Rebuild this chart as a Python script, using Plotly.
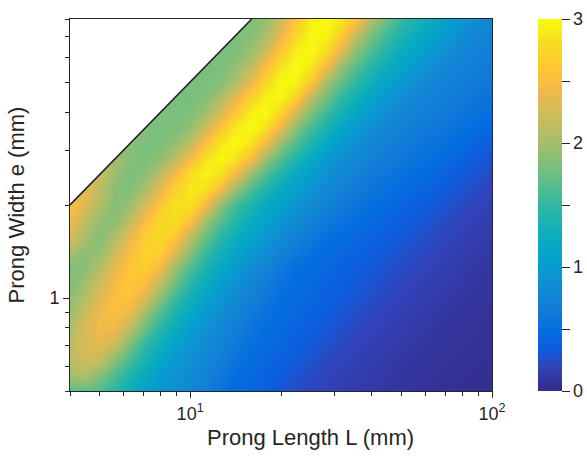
import plotly.graph_objects as go

# ---- data ----
# grid of prong lengths L (mm) and prong widths e (mm), log-spaced (0.05 decade)
L_grid = [3.981, 4.467, 5.012, 5.623, 6.310, 7.079, 7.943, 8.913, 10.0, 11.22, 12.59, 14.13, 15.85,
          17.78, 19.95, 22.39, 25.12, 28.18, 31.62, 35.48, 39.81, 44.67, 50.12, 56.23, 63.10, 70.79,
          79.43, 89.13, 100.0]
e_grid = [0.5012, 0.5623, 0.6310, 0.7079, 0.7943, 0.8913, 1.0, 1.122, 1.259, 1.413, 1.585, 1.778,
          1.995, 2.239, 2.512, 2.818, 3.162, 3.548, 3.981, 4.467, 5.012, 5.623, 6.310, 7.079, 7.943]

# colour values per e row (bottom -> top), one value per L column
row_e0_501 = [1.68, 1.68, 1.6, 1.44, 1.25, 1.06, 0.945, 0.86, 0.78, 0.667, 0.54, 0.462, 0.406, 0.35, 0.293, 0.237, 0.193, 0.173, 0.153, 0.132, 0.112, 0.096, 0.083, 0.071, 0.06, 0.05, 0.042, 0.034, 0.027]
row_e0_562 = [2.0, 2.06, 1.85, 1.6, 1.39, 1.2, 1.0, 0.913, 0.825, 0.73, 0.61, 0.495, 0.442, 0.389, 0.336, 0.283, 0.23, 0.191, 0.17, 0.15, 0.129, 0.109, 0.093, 0.08, 0.068, 0.058, 0.049, 0.04, 0.033]
row_e0_631 = [2.1, 2.24, 2.17, 1.85, 1.56, 1.34, 1.14, 0.97, 0.88, 0.78, 0.675, 0.56, 0.475, 0.425, 0.375, 0.324, 0.274, 0.224, 0.189, 0.168, 0.147, 0.126, 0.105, 0.09, 0.078, 0.067, 0.057, 0.048, 0.04]
row_e0_708 = [2.1, 2.29, 2.35, 2.18, 1.81, 1.48, 1.28, 1.08, 0.94, 0.84, 0.735, 0.62, 0.51, 0.457, 0.41, 0.362, 0.314, 0.267, 0.219, 0.187, 0.166, 0.144, 0.122, 0.1, 0.088, 0.077, 0.067, 0.057, 0.048]
row_e0_794 = [2.04, 2.27, 2.45, 2.41, 2.11, 1.71, 1.42, 1.22, 1.02, 0.9, 0.79, 0.683, 0.574, 0.486, 0.44, 0.395, 0.35, 0.305, 0.26, 0.215, 0.185, 0.163, 0.141, 0.119, 0.099, 0.087, 0.076, 0.066, 0.056]
row_e0_891 = [1.95, 2.2, 2.43, 2.52, 2.39, 1.96, 1.62, 1.37, 1.16, 0.97, 0.86, 0.74, 0.635, 0.53, 0.469, 0.426, 0.383, 0.34, 0.297, 0.254, 0.21, 0.183, 0.16, 0.138, 0.115, 0.097, 0.085, 0.075, 0.065]
row_e1_000 = [1.88, 2.08, 2.33, 2.53, 2.55, 2.29, 1.86, 1.53, 1.31, 1.09, 0.93, 0.8, 0.69, 0.587, 0.494, 0.453, 0.412, 0.371, 0.33, 0.289, 0.248, 0.207, 0.181, 0.158, 0.135, 0.112, 0.097, 0.085, 0.075]
row_e1_122 = [1.82, 1.97, 2.22, 2.48, 2.61, 2.5, 2.14, 1.75, 1.45, 1.24, 1.03, 0.89, 0.76, 0.654, 0.548, 0.478, 0.439, 0.4, 0.36, 0.32, 0.281, 0.242, 0.203, 0.178, 0.155, 0.131, 0.108, 0.095, 0.085]
row_e1_259 = [1.83, 1.87, 2.08, 2.37, 2.6, 2.67, 2.46, 1.97, 1.63, 1.38, 1.17, 0.98, 0.85, 0.726, 0.615, 0.504, 0.464, 0.426, 0.388, 0.35, 0.313, 0.275, 0.237, 0.2, 0.175, 0.151, 0.127, 0.103, 0.09]
row_e1_413 = [2.05, 1.88, 1.93, 2.22, 2.5, 2.7, 2.67, 2.33, 1.85, 1.53, 1.33, 1.14, 0.964, 0.84, 0.72, 0.62, 0.52, 0.469, 0.43, 0.391, 0.352, 0.313, 0.274, 0.235, 0.198, 0.172, 0.148, 0.123, 0.099]
row_e1_585 = [2.3, 2.03, 1.84, 2.05, 2.37, 2.66, 2.77, 2.62, 2.15, 1.75, 1.46, 1.28, 1.1, 0.947, 0.83, 0.717, 0.624, 0.53, 0.474, 0.433, 0.393, 0.353, 0.313, 0.273, 0.233, 0.195, 0.17, 0.145, 0.12]
row_e1_778 = [2.45, 2.15, 1.92, 1.87, 2.16, 2.49, 2.75, 2.81, 2.56, 1.98, 1.66, 1.41, 1.24, 1.07, 0.93, 0.815, 0.714, 0.633, 0.552, 0.485, 0.442, 0.4, 0.358, 0.315, 0.273, 0.23, 0.193, 0.167, 0.141]
row_e1_995 = [2.6, 2.32, 2.05, 1.86, 1.96, 2.28, 2.61, 2.85, 2.83, 2.47, 1.9, 1.57, 1.37, 1.2, 1.04, 0.92, 0.81, 0.714, 0.64, 0.57, 0.498, 0.453, 0.408, 0.363, 0.319, 0.274, 0.229, 0.19, 0.164]
row_e2_239 = [2.4, 2.4, 2.1, 1.87, 1.84, 2.04, 2.38, 2.7, 2.89, 2.82, 2.45, 1.91, 1.6, 1.375, 1.2, 1.02, 0.9, 0.79, 0.71, 0.65, 0.58, 0.52, 0.465, 0.417, 0.37, 0.322, 0.274, 0.227, 0.19]
row_e2_512 = [2.2, 2.2, 2.2, 1.95, 1.8, 1.88, 2.12, 2.48, 2.81, 2.95, 2.83, 2.45, 1.91, 1.62, 1.38, 1.19, 0.996, 0.89, 0.79, 0.71, 0.65, 0.59, 0.53, 0.478, 0.427, 0.376, 0.326, 0.275, 0.22]
row_e2_818 = [2.0, 2.0, 2.0, 2.0, 1.85, 1.8, 1.91, 2.13, 2.49, 2.83, 2.97, 2.85, 2.46, 1.91, 1.62, 1.38, 1.17, 0.98, 0.88, 0.78, 0.71, 0.66, 0.6, 0.55, 0.493, 0.44, 0.384, 0.33, 0.276]
row_e3_162 = [1.87, 1.87, 1.87, 1.87, 1.87, 1.8, 1.8, 1.92, 2.16, 2.54, 2.88, 3.0, 2.85, 2.41, 1.89, 1.61, 1.37, 1.16, 0.97, 0.87, 0.77, 0.71, 0.66, 0.61, 0.56, 0.51, 0.452, 0.393, 0.335]
row_e3_548 = [1.85, 1.85, 1.85, 1.85, 1.85, 1.85, 1.8, 1.8, 1.93, 2.2, 2.58, 2.9, 3.0, 2.82, 2.34, 1.86, 1.57, 1.35, 1.14, 0.97, 0.87, 0.77, 0.712, 0.665, 0.618, 0.57, 0.524, 0.47, 0.42]
row_e3_981 = [1.82, 1.82, 1.82, 1.82, 1.82, 1.82, 1.82, 1.8, 1.82, 1.98, 2.26, 2.64, 2.94, 2.985, 2.75, 2.21, 1.81, 1.53, 1.32, 1.13, 0.966, 0.87, 0.77, 0.714, 0.67, 0.625, 0.58, 0.536, 0.5]
row_e4_467 = [1.8, 1.8, 1.8, 1.8, 1.8, 1.8, 1.8, 1.8, 1.79, 1.85, 2.02, 2.33, 2.7, 2.96, 2.97, 2.7, 2.11, 1.77, 1.49, 1.3, 1.11, 0.96, 0.86, 0.76, 0.714, 0.672, 0.63, 0.588, 0.546]
row_e5_012 = [1.8, 1.8, 1.8, 1.8, 1.8, 1.8, 1.8, 1.8, 1.8, 1.8, 1.86, 2.04, 2.39, 2.76, 2.98, 2.945, 2.62, 2.0, 1.72, 1.46, 1.29, 1.11, 0.96, 0.86, 0.76, 0.715, 0.675, 0.635, 0.595]
row_e5_623 = [1.8, 1.8, 1.8, 1.8, 1.8, 1.8, 1.8, 1.8, 1.8, 1.8, 1.8, 1.91, 2.14, 2.51, 2.86, 3.0, 2.88, 2.47, 1.92, 1.66, 1.43, 1.27, 1.1, 0.96, 0.86, 0.76, 0.716, 0.678, 0.64]
row_e6_310 = [1.8, 1.8, 1.8, 1.8, 1.8, 1.8, 1.8, 1.8, 1.8, 1.8, 1.8, 1.8, 1.96, 2.23, 2.62, 2.92, 2.995, 2.8, 2.34, 1.87, 1.61, 1.41, 1.25, 1.09, 0.96, 0.86, 0.755, 0.716, 0.68]
row_e7_079 = [1.8, 1.8, 1.8, 1.8, 1.8, 1.8, 1.8, 1.8, 1.8, 1.8, 1.8, 1.8, 1.86, 2.04, 2.39, 2.76, 2.98, 2.955, 2.67, 2.14, 1.8, 1.55, 1.38, 1.23, 1.09, 0.96, 0.85, 0.75, 0.715]
row_e7_943 = [1.8, 1.8, 1.8, 1.8, 1.8, 1.8, 1.8, 1.8, 1.8, 1.8, 1.8, 1.8, 1.8, 1.93, 2.23, 2.62, 2.92, 3.0, 2.87, 2.55, 2.02, 1.76, 1.5, 1.36, 1.22, 1.08, 0.955, 0.85, 0.75]

# feasibility limit (white region above it)
boundary_L = [4, 16]
boundary_e = [2, 8]

# axis limits and ticks
L_min, L_max = 4, 100
e_min, e_max = 0.5, 8
x_major = [10, 100]
x_major_text = ["10<sup>1</sup>", "10<sup>2</sup>"]
x_minor = [4, 5, 6, 7, 8, 9, 20, 30, 40, 50, 60, 70, 80, 90]
y_major = [1]
y_major_text = ["1"]
y_minor = [0.5, 0.6, 0.7, 0.8, 0.9, 2, 3, 4, 5, 6, 7, 8]
cb_ticks = [0, 0.5, 1, 1.5, 2, 2.5, 3]
cb_text = ["0", "", "1", "", "2", "", "3"]
x_title = "Prong Length L (mm)"
y_title = "Prong Width e (mm)"

z = [row_e0_501, row_e0_562, row_e0_631, row_e0_708, row_e0_794, row_e0_891, row_e1_000,
     row_e1_122, row_e1_259, row_e1_413, row_e1_585, row_e1_778, row_e1_995, row_e2_239,
     row_e2_512, row_e2_818, row_e3_162, row_e3_548, row_e3_981, row_e4_467, row_e5_012,
     row_e5_623, row_e6_310, row_e7_079, row_e7_943]

# parula colormap
parula = [
    (1, (0.2081, 0.1663, 0.5292)), (5, (0.1959, 0.2645, 0.7279)), (8, (0.0591, 0.3598, 0.8683)),
    (11, (0.0165, 0.4266, 0.8786)), (15, (0.0723, 0.4887, 0.8467)), (19, (0.0641, 0.5570, 0.8240)),
    (23, (0.0239, 0.6287, 0.8038)), (27, (0.0384, 0.6743, 0.7436)), (31, (0.1453, 0.7098, 0.6646)),
    (35, (0.3022, 0.7376, 0.5712)), (39, (0.4871, 0.7491, 0.4840)), (43, (0.6473, 0.7456, 0.4188)),
    (47, (0.7858, 0.7356, 0.3633)), (51, (0.9139, 0.7258, 0.3063)), (54, (0.9938, 0.7455, 0.2403)),
    (57, (0.9880, 0.8066, 0.1794)), (60, (0.9626, 0.8705, 0.1309)), (64, (0.9763, 0.9831, 0.0538)),
]
colorscale = [[(i - 1) / 63, "rgb(%d,%d,%d)" % tuple(round(c * 255) for c in rgb)] for i, rgb in parula]

ink = "#262626"
font = "Liberation Sans, Arial, sans-serif"

fig = go.Figure()
fig.add_trace(go.Heatmap(
    x=L_grid, y=e_grid, z=z, zmin=0, zmax=3, zsmooth="best",
    colorscale=colorscale, hoverinfo="skip",
    colorbar=dict(
        x=1.109, xanchor="left", xpad=0, y=0.5, yanchor="middle", len=1, lenmode="fraction",
        thickness=24, thicknessmode="pixels", outlinewidth=0, ypad=0,
        tickvals=cb_ticks, ticktext=cb_text, ticks="outside", ticklen=8, tickcolor=ink,
        tickfont=dict(size=18, color=ink, family=font),
    ),
))
# white infeasible region
fig.add_trace(go.Scatter(
    x=[boundary_L[0], boundary_L[1], L_min, boundary_L[0]],
    y=[boundary_e[0], boundary_e[1], e_max, boundary_e[0]],
    mode="lines", fill="toself", fillcolor="white", line=dict(width=0),
    hoverinfo="skip", showlegend=False,
))
fig.add_trace(go.Scatter(
    x=boundary_L, y=boundary_e, mode="lines", line=dict(color="#222222", width=1.6),
    hoverinfo="skip", showlegend=False,
))

axis_common = dict(
    type="log", showgrid=False, zeroline=False, showline=True, linecolor=ink, linewidth=1,
    mirror=True, ticks="outside", ticklen=6, tickcolor=ink,
    tickfont=dict(size=18, color=ink, family=font),
)
fig.update_xaxes(
    **axis_common, range=[0.60206, 2.0], tickvals=x_major, ticktext=x_major_text,
    minor=dict(tickvals=x_minor, ticks="outside", ticklen=4, tickcolor=ink),
)
fig.update_yaxes(
    **axis_common, range=[-0.30103, 0.90309], tickvals=y_major, ticktext=y_major_text,
    minor=dict(tickvals=y_minor, ticks="outside", ticklen=4, tickcolor=ink),
    title=dict(text=y_title, font=dict(size=22, color=ink, family=font), standoff=18),
)
fig.add_annotation(
    text=x_title, xref="paper", yref="paper", x=0.569, y=-0.124,
    xanchor="center", yanchor="middle", showarrow=False,
    font=dict(size=22, color=ink, family=font),
)
fig.update_layout(
    width=587, height=459, margin=dict(l=70, r=95, t=19, b=68, autoexpand=False),
    paper_bgcolor="white", plot_bgcolor="white", showlegend=False,
    font=dict(family=font, color=ink),
)
fig.write_html("out.html")
